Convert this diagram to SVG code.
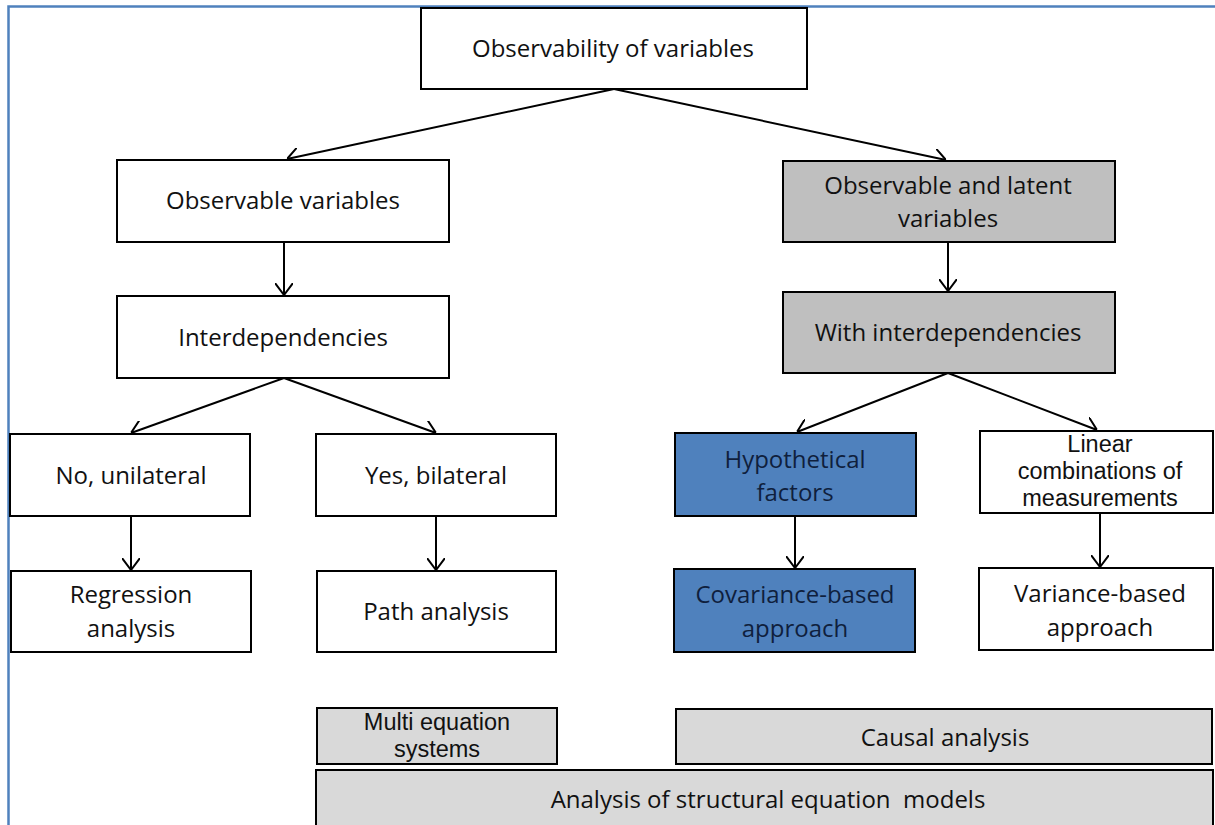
<svg xmlns="http://www.w3.org/2000/svg" width="1215" height="825" viewBox="0 0 1215 825">
  <style>
    .box { stroke: #000; stroke-width: 2; }
    .white { fill: #fff; }
    .gray { fill: #bfbfbf; }
    .light { fill: #d9d9d9; }
    .blue { fill: #4f81bd; }
    text { font-family: "Open Sans", "Liberation Sans", sans-serif; font-size: 24px; fill: #111; text-anchor: middle; dominant-baseline: central; }
    .tight { font-family: "Liberation Sans", Arial, sans-serif; font-size: 23.5px; }
    .navy { fill: #0f1f3d; }
    .link { stroke: #000; stroke-width: 2; fill: none; marker-end: url(#head); }
  </style>
  <defs>
    <marker id="head" viewBox="0 0 12 18" refX="12" refY="9" markerWidth="12" markerHeight="18" markerUnits="userSpaceOnUse" orient="auto">
      <path d="M0,0 L12,9 L0,18" fill="none" stroke="#000" stroke-width="2"/>
    </marker>
  </defs>

  <rect x="0" y="0" width="1215" height="825" fill="#fff"/>
  <!-- frame -->
  <path d="M8.5,825 V6.5 H1215" fill="none" stroke="#4f81bd" stroke-width="2.5"/>

  <g id="connectors">
    <line class="link" x1="614" y1="89" x2="287" y2="159"/>
    <line class="link" x1="614" y1="89" x2="946" y2="160"/>
    <line class="link" x1="284" y1="242" x2="284" y2="295"/>
    <line class="link" x1="284" y1="378" x2="131" y2="433"/>
    <line class="link" x1="284" y1="378" x2="436" y2="433"/>
    <line class="link" x1="131" y1="516" x2="131" y2="570"/>
    <line class="link" x1="436" y1="516" x2="436" y2="570"/>
    <line class="link" x1="948" y1="242" x2="948" y2="291"/>
    <line class="link" x1="948" y1="373" x2="797" y2="432"/>
    <line class="link" x1="948" y1="373" x2="1097" y2="430"/>
    <line class="link" x1="795" y1="516" x2="795" y2="568"/>
    <line class="link" x1="1100" y1="513" x2="1100" y2="567"/>
  </g>

  <g id="observability">
    <rect class="box white" x="421" y="8" width="386" height="81"/>
    <text x="613" y="47">Observability of variables</text>
  </g>
  <g id="observable">
    <rect class="box white" x="117" y="160" width="332" height="82"/>
    <text x="283" y="199">Observable variables</text>
  </g>
  <g id="interdependencies">
    <rect class="box white" x="117" y="296" width="332" height="82"/>
    <text x="283" y="336">Interdependencies</text>
  </g>
  <g id="unilateral">
    <rect class="box white" x="10" y="434" width="240" height="82"/>
    <text x="131" y="474">No, unilateral</text>
  </g>
  <g id="bilateral">
    <rect class="box white" x="316" y="434" width="240" height="82"/>
    <text x="436" y="474">Yes, bilateral</text>
  </g>
  <g id="regression">
    <rect class="box white" x="11" y="571" width="240" height="81"/>
    <text x="131" y="593">Regression</text>
    <text x="131" y="627">analysis</text>
  </g>
  <g id="path-analysis">
    <rect class="box white" x="317" y="571" width="239" height="81"/>
    <text x="436" y="610">Path analysis</text>
  </g>
  <g id="latent">
    <rect class="box gray" x="783" y="161" width="332" height="81"/>
    <text x="948" y="184">Observable and latent</text>
    <text x="948" y="217">variables</text>
  </g>
  <g id="with-interdependencies">
    <rect class="box gray" x="783" y="292" width="332" height="81"/>
    <text x="948" y="331">With interdependencies</text>
  </g>
  <g id="hypothetical">
    <rect class="box blue" x="675" y="433" width="241" height="83"/>
    <text class="navy" x="795" y="458">Hypothetical</text>
    <text class="navy" x="795" y="491">factors</text>
  </g>
  <g id="linear">
    <rect class="box white" x="980" y="431" width="233" height="82"/>
    <text class="tight" x="1100" y="444">Linear</text>
    <text class="tight" x="1100" y="471">combinations of</text>
    <text class="tight" x="1100" y="498">measurements</text>
  </g>
  <g id="covariance">
    <rect class="box blue" x="674" y="569" width="241" height="83"/>
    <text class="navy" x="795" y="593">Covariance-based</text>
    <text class="navy" x="795" y="627">approach</text>
  </g>
  <g id="variance">
    <rect class="box white" x="979" y="568" width="234" height="82"/>
    <text x="1100" y="592">Variance-based</text>
    <text x="1100" y="626">approach</text>
  </g>
  <g id="multi-equation">
    <rect class="box light" x="317" y="708" width="240" height="56"/>
    <text class="tight" x="437" y="722">Multi equation</text>
    <text class="tight" x="437" y="749">systems</text>
  </g>
  <g id="causal">
    <rect class="box light" x="676" y="709" width="536" height="55"/>
    <text x="945" y="736">Causal analysis</text>
  </g>
  <g id="sem">
    <rect class="box light" x="316" y="770" width="897" height="60"/>
    <text x="768" y="798" xml:space="preserve">Analysis of structural equation  models</text>
  </g>
</svg>
